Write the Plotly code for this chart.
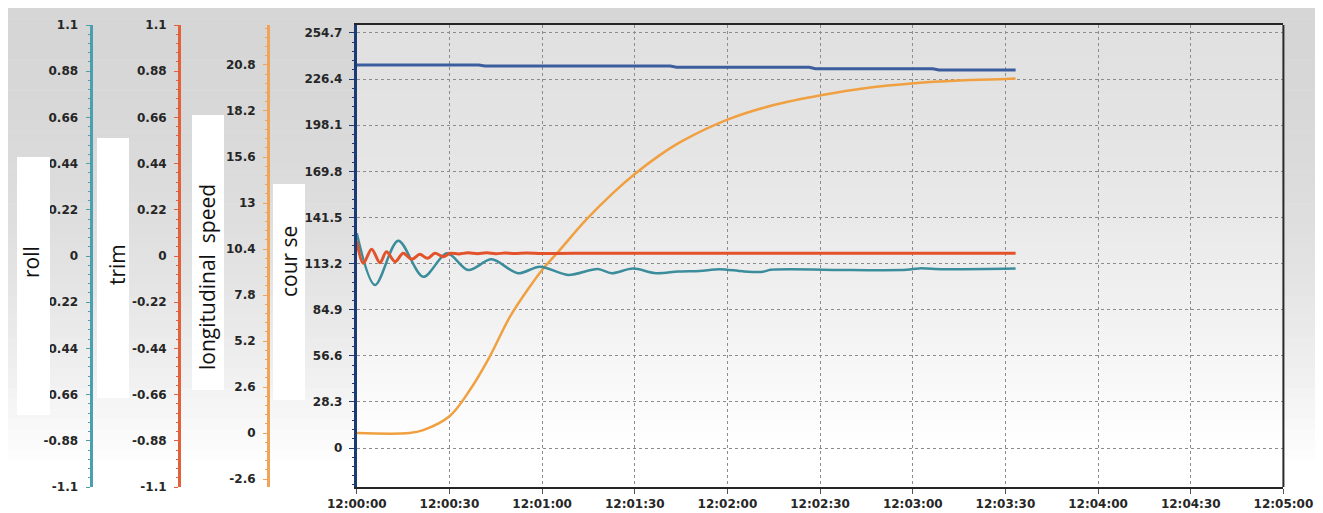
import plotly.graph_objects as go
import pandas as pd

# ---------------- data ----------------
# time in seconds after 12:00:00
course_t = [0, 17, 21.5, 30, 36.6, 43, 49.6, 56, 60, 65.7, 74.2, 83, 90.4, 98, 105, 120, 135,
            150.7, 165, 180.5, 195, 210, 213.3]
course_v = [9.2, 9.2, 11, 19.5, 35.6, 56, 80.6, 99, 109.3, 121.5, 140, 156.6, 168.8, 179.6, 188,
            201.5, 210.5, 216.7, 221, 223.9, 225.5, 226.5, 226.8]

speed_t = [0, 39.5, 41.5, 101.5, 103.5, 146.5, 148.5, 186.5, 188.5, 213.3]
speed_v = [20.80, 20.80, 20.74, 20.74, 20.67, 20.67, 20.59, 20.59, 20.52, 20.52]

roll_t = [0, 5.9, 13.4, 21.5, 29.2, 36.1, 43.6, 52.2, 59.3, 68.4, 78, 82.5, 89.4, 96.9, 104,
          111, 117.5, 125, 131.5, 134, 160, 178, 182, 190, 213.3]
roll_v = [0.108, -0.138, 0.073, -0.099, 0.013, -0.067, -0.016, -0.082, -0.051, -0.090, -0.062,
          -0.082, -0.060, -0.082, -0.074, -0.071, -0.063, -0.073, -0.075, -0.066, -0.067, -0.066,
          -0.059, -0.063, -0.060]

trim_t = [0, 2.1, 4.8, 7.5, 9.6, 12.4, 15.0, 17.8, 20.4, 22.9, 25.3, 28.0, 30.2, 33, 36, 39, 42,
          45, 48, 51, 55, 60, 70, 213.3]
trim_v = [0.07, -0.035, 0.032, -0.032, 0.020, -0.027, 0.013, -0.016, 0.008, -0.011, 0.013, -0.003,
          0.013, 0.010, 0.015, 0.011, 0.015, 0.011, 0.014, 0.012, 0.014, 0.012, 0.013, 0.013]

course_ticks = [0, 28.3, 56.6, 84.9, 113.2, 141.5, 169.8, 198.1, 226.4, 254.7]
course_ticktext = ["0", "28.3", "56.6", "84.9", "113.2", "141.5", "169.8", "198.1", "226.4", "254.7"]
rt_ticks = [-1.1, -0.88, -0.66, -0.44, -0.22, 0, 0.22, 0.44, 0.66, 0.88, 1.1]
rt_ticktext = ["-1.1", "-0.88", "-0.66", "-0.44", "-0.22", "0", "0.22", "0.44", "0.66", "0.88", "1.1"]
speed_ticks = [-2.6, 0, 2.6, 5.2, 7.8, 10.4, 13, 15.6, 18.2, 20.8]
speed_ticktext = ["-2.6", "0", "2.6", "5.2", "7.8", "10.4", "13", "15.6", "18.2", "20.8"]

titles = ["roll", "trim", "longitudinal&nbsp; speed", "cour se"]

# ---------------- figure ----------------
# the page places the figure 8 px from the window's top-left corner
OX, OY = 8, 8
W, H = 1323 - OX, 513 - OY
base = pd.Timestamp("2024-01-01 12:00:00")


def tt(ts):
    return base + pd.to_timedelta(ts, unit="s")


def px(x):
    return (x - OX) / W


def py(y):
    return 1 - (y - OY) / H


C_ORANGE = "#f0a040"
C_TEAL = "#3c8d9b"
C_RED = "#e2522b"
C_BLUE = "#3d5e9e"
TICKFONT = dict(family="DejaVu Sans", size=12, color="#262626", weight="bold")

fig = go.Figure()
fig.add_trace(go.Scatter(x=tt(course_t), y=course_v, mode="lines", yaxis="y",
                         line=dict(color=C_ORANGE, width=2.5, shape="spline", smoothing=1.0)))
fig.add_trace(go.Scatter(x=tt(roll_t), y=roll_v, mode="lines", yaxis="y2",
                         line=dict(color=C_TEAL, width=2.5, shape="spline", smoothing=0.9)))
fig.add_trace(go.Scatter(x=tt(trim_t), y=trim_v, mode="lines", yaxis="y3",
                         line=dict(color=C_RED, width=3, shape="spline", smoothing=0.9)))
fig.add_trace(go.Scatter(x=tt(speed_t), y=speed_v, mode="lines", yaxis="y4",
                         line=dict(color=C_BLUE, width=3)))

x0, x1 = 356.8, 1283.4
yt, yb = 25, 487

shapes = []
# background gradient (whole page)
n = 44
for i in range(n):
    ya = 8 + i * (460 - 8) / n
    yb_ = 8 + (i + 1) * (460 - 8) / n
    f = ((ya - 8) / 452) ** 2
    c = int(round(214 + (255 - 214) * min(f, 1)))
    shapes.append(dict(type="rect", xref="paper", yref="paper", x0=0, x1=1,
                       y0=py(yb_ + 0.5), y1=py(ya), fillcolor=f"rgb({c},{c},{c})",
                       line=dict(width=0), layer="below"))
# plot area gradient (slightly lighter)
for i in range(n):
    ya = yt + i * (440 - yt) / n
    yb_ = yt + (i + 1) * (440 - yt) / n
    f = ((ya - yt) / 415) ** 1.6
    c = int(round(225 + (255 - 225) * min(f, 1)))
    shapes.append(dict(type="rect", xref="paper", yref="paper", x0=px(x0), x1=px(x1),
                       y0=py(yb_ + 0.5), y1=py(ya), fillcolor=f"rgb({c},{c},{c})",
                       line=dict(width=0), layer="below"))
shapes.append(dict(type="rect", xref="paper", yref="paper", x0=px(x0), x1=px(x1),
                   y0=py(487), y1=py(440), fillcolor="white", line=dict(width=0), layer="below"))
# white label boxes
for (bx0, by0, bx1, by1) in [(17, 157, 50, 415), (97, 138, 129, 398), (192, 115, 224, 390),
                             (273, 184, 305, 400)]:
    shapes.append(dict(type="rect", xref="paper", yref="paper", x0=px(bx0), x1=px(bx1),
                       y0=py(by1), y1=py(by0), fillcolor="white", line=dict(width=0),
                       layer="above"))
# right border of plot
shapes.append(dict(type="line", xref="paper", yref="paper", x0=px(x1), x1=px(x1),
                   y0=py(yb), y1=py(yt), line=dict(color="#2a2a2a", width=2), layer="above"))

annotations = []
for label, (ax, ay) in zip(titles, [(31, 262), (117, 265), (207, 277), (289, 262)]):
    annotations.append(dict(text=label, x=px(ax), y=py(ay), xref="paper", yref="paper",
                            xanchor="center", yanchor="middle", textangle=-90, showarrow=False,
                            font=dict(family="Open Sans", size=21, color="#111")))

common_free = dict(anchor="free", overlaying="y", side="left", showgrid=False, zeroline=False,
                   showline=True, linewidth=3, ticks="outside", ticklen=4, tickwidth=1,
                   tickfont=TICKFONT, tickmode="array", automargin=False, ticklabelstandoff=5)

fig.update_layout(
    width=W, height=H, autosize=False,
    margin=dict(l=0, r=0, t=0, b=0, pad=0, autoexpand=False),
    paper_bgcolor="white", plot_bgcolor="rgba(0,0,0,0)",
    showlegend=False,
    shapes=shapes, annotations=annotations,
    xaxis=dict(type="date", domain=[px(x0), px(x1)], automargin=False,
               range=[tt(0), tt(300)], dtick=30000, tick0=tt(0), tickformat="%H:%M:%S",
               showgrid=True, gridcolor="#8c8c8c", griddash="dot", gridwidth=1,
               showline=True, linecolor="#252525", linewidth=2, mirror=True,
               ticks="outside", ticklen=5, tickcolor="#555", tickfont=TICKFONT, zeroline=False),
    yaxis=dict(domain=[py(yb), py(yt)], range=[-23.9, 259.6], tickmode="array", automargin=False,
               tickvals=course_ticks, ticktext=course_ticktext, ticklabelstandoff=4,
               showgrid=True, gridcolor="#8c8c8c", griddash="dot", gridwidth=1, zeroline=False,
               showline=True, linecolor="#1d3a72", linewidth=3,
               ticks="outside", ticklen=5, tickcolor="#1d3a72", tickfont=TICKFONT,
               minor=dict(ticks="outside", ticklen=2, tick0=0, dtick=5.66, tickcolor="#1d3a72")),
    yaxis2=dict(position=px(90.5), range=[-1.1, 1.1], tickvals=rt_ticks, ticktext=rt_ticktext,
                linecolor="#4c9fae", tickcolor="#4c9fae",
                minor=dict(ticks="outside", ticklen=2, tick0=0, dtick=0.044, tickcolor="#4c9fae"),
                **common_free),
    yaxis3=dict(position=px(179), range=[-1.1, 1.1], tickvals=rt_ticks, ticktext=rt_ticktext,
                linecolor="#e2603a", tickcolor="#e2603a",
                minor=dict(ticks="outside", ticklen=2, tick0=0, dtick=0.044, tickcolor="#e2603a"),
                **common_free),
    yaxis4=dict(position=px(268), range=[-3.05, 23.06], tickvals=speed_ticks,
                ticktext=speed_ticktext, linecolor="#f0a45a", tickcolor="#f0a45a",
                minor=dict(ticks="outside", ticklen=2, tick0=0, dtick=0.52, tickcolor="#f0a45a"),
                **common_free),
)

fig.write_html("out.html")
